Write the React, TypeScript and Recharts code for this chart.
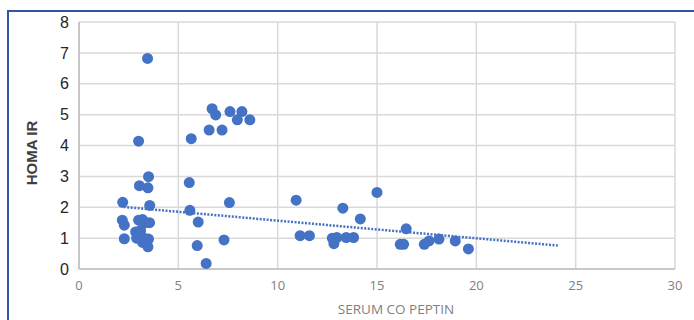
import { ScatterChart, Scatter, XAxis, YAxis, CartesianGrid } from 'recharts';

const serumCoPeptin = [
    3.45, 3.0, 6.7, 6.88, 7.6, 8.2, 7.97, 8.6, 6.55, 7.2,
    5.65, 5.55, 5.58, 6.0, 5.95, 6.4, 7.3, 7.57, 3.5, 3.04,
    3.47, 2.2, 3.56, 2.18, 2.28, 2.28, 3.0, 3.2, 3.35, 3.55,
    2.85, 3.1, 2.9, 3.1, 3.35, 3.2, 3.5, 3.47, 10.93, 11.13,
    11.6, 12.75, 12.98, 12.83, 13.28, 13.45, 13.82, 14.16, 15.0, 16.17,
    16.34, 16.47, 17.38, 17.62, 18.12, 18.94, 19.6,
];
const homaIr = [
    6.82, 4.14, 5.19, 4.99, 5.1, 5.1, 4.83, 4.83, 4.5, 4.5,
    4.22, 2.8, 1.9, 1.52, 0.76, 0.18, 0.94, 2.15, 2.99, 2.7,
    2.63, 2.16, 2.06, 1.58, 1.42, 0.98, 1.58, 1.6, 1.5, 1.5,
    1.2, 1.25, 1.0, 1.08, 0.98, 0.86, 0.97, 0.72, 2.23, 1.08,
    1.08, 1.0, 1.02, 0.82, 1.97, 1.02, 1.02, 1.62, 2.48, 0.8,
    0.8, 1.3, 0.8, 0.91, 0.97, 0.91, 0.65,
];
// linear trendline endpoints
const trendX = [2.25, 24.1];
const trendY = [2.01, 0.76];

const xTicks = [0, 5, 10, 15, 20, 25, 30];
const yTicks = [0, 1, 2, 3, 4, 5, 6, 7, 8];

const points = serumCoPeptin.map((x, i) => ({ x, y: homaIr[i] }));
const trend = trendX.map((x, i) => ({ x, y: trendY[i] }));

const blue = "#4472C4";

export default function App() {
    return (
        <div style={{ position: "absolute", left: 0, top: 0, width: 694, height: 320, background: "#fff", overflow: "hidden" }}>
            <div style={{
                position: "absolute",
                left: 7,
                top: 10,
                width: 700,
                height: 320,
                borderTop: "2px solid #2F55A4",
                borderLeft: "2px solid #2F55A4",
            }} />
            <ScatterChart
                width={694}
                height={320}
                margin={{ top: 22, right: 19, bottom: 11, left: 0 }}
                style={{ position: "absolute", left: 0, top: 0 }}
            >
                <CartesianGrid stroke="#d9d9d9" strokeWidth={1.5} />
                <XAxis
                    type="number"
                    dataKey="x"
                    domain={[0, 30]}
                    ticks={xTicks}
                    height={40}
                    tickLine={false}
                    tickSize={0}
                    tickMargin={12}
                    axisLine={{ stroke: "#bfbfbf", strokeWidth: 1.5 }}
                    tick={{ fill: "#7f7f7f", fontSize: 13, fontFamily: "Open Sans" }}
                />
                <YAxis
                    type="number"
                    dataKey="y"
                    domain={[0, 8]}
                    ticks={yTicks}
                    width={79}
                    tickLine={false}
                    tickSize={0}
                    tickMargin={10}
                    axisLine={{ stroke: "#bfbfbf", strokeWidth: 1.5 }}
                    tick={{ fill: "#262626", fontSize: 16, fontFamily: "Liberation Sans" }}
                />
                <Scatter
                    data={points}
                    isAnimationActive={false}
                    shape={(p: any) => <circle cx={p.cx} cy={p.cy} r={5.5} fill={blue} />}
                />
                <Scatter
                    data={trend}
                    isAnimationActive={false}
                    line={{ stroke: blue, strokeWidth: 2.5, strokeDasharray: "2 1.5" }}
                    shape={() => <g />}
                />
            </ScatterChart>
            <div style={{
                position: "absolute",
                left: 31,
                top: 153,
                transform: "translate(-50%, -50%) rotate(-90deg)",
                fontFamily: "Liberation Sans",
                fontWeight: "bold",
                fontSize: 15,
                color: "#404040",
                whiteSpace: "nowrap",
            }}>
                HOMA IR
            </div>
            <div style={{
                position: "absolute",
                left: 396,
                top: 309,
                transform: "translate(-50%, -50%)",
                fontFamily: "Open Sans",
                fontSize: 13.5,
                color: "#7f7f7f",
                whiteSpace: "nowrap",
            }}>
                SERUM CO PEPTIN
            </div>
        </div>
    );
}
